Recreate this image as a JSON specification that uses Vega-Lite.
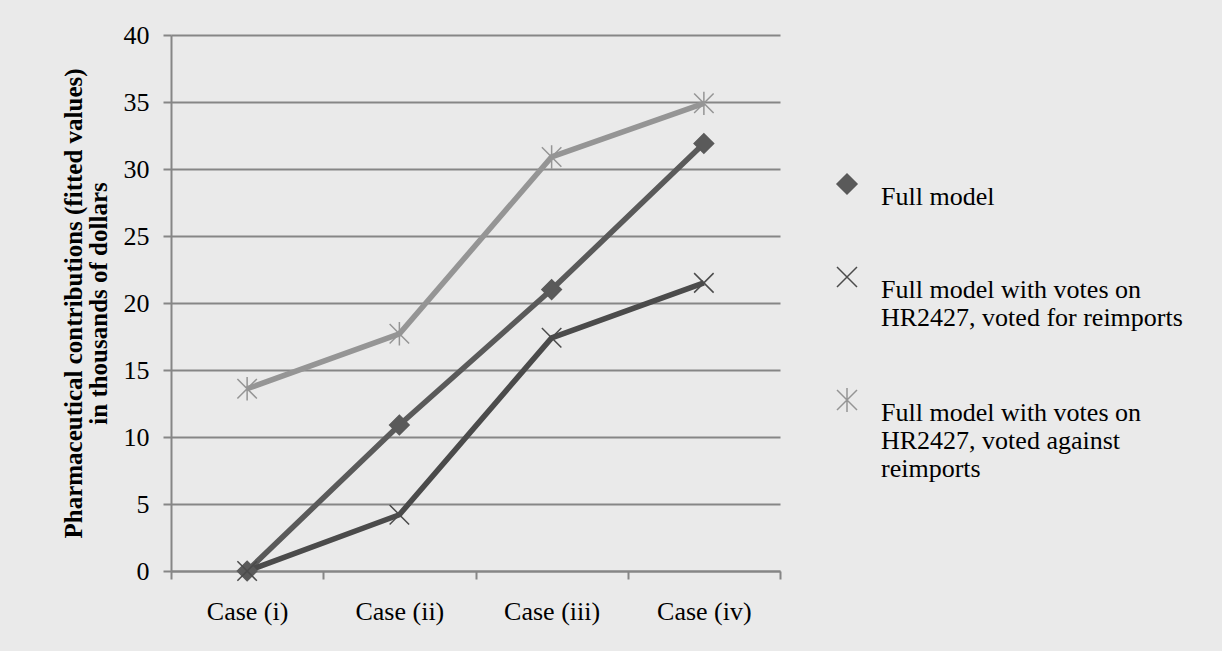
{
  "$schema": "https://vega.github.io/schema/vega-lite/v6.json",
  "width": 609,
  "height": 536,
  "autosize": {"type": "none"},
  "padding": {"left": 171, "top": 35, "right": 442, "bottom": 80},
  "background": "#eaeaea",
  "config": {"view": {"stroke": null}, "font": "Liberation Serif"},
  "data": {
    "values": [
      {"case": "Case (i)", "series": "Full model", "value": 0},
      {"case": "Case (ii)", "series": "Full model", "value": 10.9},
      {"case": "Case (iii)", "series": "Full model", "value": 21.0},
      {"case": "Case (iv)", "series": "Full model", "value": 31.9},
      {"case": "Case (i)", "series": "Full model with votes on HR2427, voted for reimports", "value": 0},
      {"case": "Case (ii)", "series": "Full model with votes on HR2427, voted for reimports", "value": 4.2},
      {"case": "Case (iii)", "series": "Full model with votes on HR2427, voted for reimports", "value": 17.4},
      {"case": "Case (iv)", "series": "Full model with votes on HR2427, voted for reimports", "value": 21.5},
      {"case": "Case (i)", "series": "Full model with votes on HR2427, voted against reimports", "value": 13.6},
      {"case": "Case (ii)", "series": "Full model with votes on HR2427, voted against reimports", "value": 17.7},
      {"case": "Case (iii)", "series": "Full model with votes on HR2427, voted against reimports", "value": 30.9},
      {"case": "Case (iv)", "series": "Full model with votes on HR2427, voted against reimports", "value": 34.9}
    ]
  },
  "encoding": {
    "x": {
      "field": "case", "type": "nominal",
      "sort": ["Case (i)", "Case (ii)", "Case (iii)", "Case (iv)"],
      "scale": {"type": "band", "paddingInner": 0, "paddingOuter": 0},
      "axis": {
        "title": null, "tickBand": "extent", "labelAngle": 0, "grid": false,
        "labelFontSize": 26, "labelFont": "Liberation Serif", "labelColor": "black", "labelPadding": 19,
        "tickSize": 8, "tickWidth": 2, "tickColor": "#868686",
        "domainColor": "#868686", "domainWidth": 2
      }
    },
    "y": {
      "field": "value", "type": "quantitative",
      "scale": {"domain": [0, 40], "nice": false},
      "axis": {
        "values": [0, 5, 10, 15, 20, 25, 30, 35, 40],
        "grid": true, "gridColor": "#868686", "gridWidth": 2,
        "domainColor": "#868686", "domainWidth": 2,
        "tickColor": "#868686", "tickWidth": 2, "tickSize": 8,
        "labelFontSize": 26, "labelFont": "Liberation Serif", "labelColor": "black", "labelPadding": 14,
        "title": ["Pharmaceutical contributions (fitted values)", "in thousands of dollars"],
        "titleFont": "Liberation Serif", "titleFontSize": 25, "titleFontWeight": "bold",
        "titleColor": "black", "titleLineHeight": 25, "titlePadding": 12
      }
    },
    "color": {
      "field": "series", "type": "nominal",
      "scale": {
        "domain": ["Full model", "Full model with votes on HR2427, voted for reimports", "Full model with votes on HR2427, voted against reimports"],
        "range": ["#5a5a5a", "#4b4b4b", "#959595"]
      },
      "legend": {
        "orient": "none", "legendX": 663, "legendY": 136, "title": null, "padding": 0,
        "labelFontSize": 26, "labelFont": "Liberation Serif", "labelColor": "black",
        "labelOffset": 21, "labelLimit": 500, "rowPadding": 54, "labelBaseline": "top",
        "symbolSize": 400, "symbolStrokeWidth": 1.5,
        "labelExpr": "datum.label == 'Full model with votes on HR2427, voted for reimports' ? ['Full model with votes on', 'HR2427, voted for reimports'] : datum.label == 'Full model with votes on HR2427, voted against reimports' ? ['Full model with votes on', 'HR2427, voted against', 'reimports'] : datum.label"
      }
    }
  },
  "layer": [
    {
      "mark": {"type": "line", "strokeWidth": 5.5}
    },
    {
      "mark": {"type": "point", "filled": true, "size": 380, "strokeWidth": 1.5, "opacity": 1},
      "encoding": {
        "stroke": {
          "field": "series", "type": "nominal",
          "scale": {
            "domain": ["Full model", "Full model with votes on HR2427, voted for reimports", "Full model with votes on HR2427, voted against reimports"],
            "range": ["#5a5a5a", "#4b4b4b", "#959595"]
          },
          "legend": null
        },
        "shape": {
          "field": "series", "type": "nominal",
          "scale": {
            "domain": ["Full model", "Full model with votes on HR2427, voted for reimports", "Full model with votes on HR2427, voted against reimports"],
            "range": ["diamond", "M-1,-1L1,1M-1,1L1,-1", "M-1,-1L1,1M-1,1L1,-1M0,-1.2L0,1.2"]
          },
          "legend": null
        }
      }
    }
  ]
}
